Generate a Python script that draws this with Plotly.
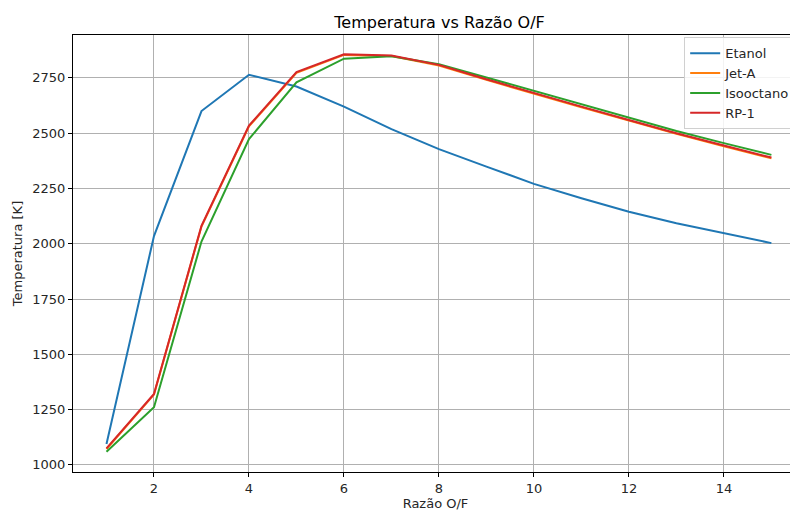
import plotly.graph_objects as go

razao_of = [1, 2, 3, 4, 5, 6, 7, 8, 9, 10, 11, 12, 13, 14, 15]
etanol = [1095, 2035, 2600, 2764, 2711, 2620, 2518, 2428, 2349, 2271, 2206, 2145, 2093, 2048, 2003]
jet_a = [1072, 1318, 2078, 2531, 2773, 2854, 2849, 2806, 2741, 2678, 2617, 2557, 2497, 2441, 2386]
isooctano = [1060, 1261, 2010, 2473, 2730, 2837, 2848, 2812, 2752, 2692, 2630, 2570, 2510, 2455, 2402]
rp_1 = [1075, 1321, 2081, 2534, 2776, 2857, 2851, 2809, 2744, 2681, 2620, 2560, 2500, 2444, 2390]

series = [
    ("Etanol", etanol, "#1f77b4"),
    ("Jet-A", jet_a, "#ff7f0e"),
    ("Isooctano", isooctano, "#2ca02c"),
    ("RP-1", rp_1, "#d62728"),
]

y_ticks = [1000, 1250, 1500, 1750, 2000, 2250, 2500, 2750]
x_ticks = [2, 4, 6, 8, 10, 12, 14]

fig = go.Figure()
for name, vals, color in series:
    fig.add_trace(go.Scatter(x=razao_of, y=vals, mode="lines", name=name,
                             line=dict(color=color, width=2)))

W, H = 790, 505  # page has 8px body margin
font = "DejaVu Sans"
fig.update_layout(
    width=W, height=H,
    margin=dict(l=65, r=0, t=27, b=41, autoexpand=False),
    paper_bgcolor="white", plot_bgcolor="white",
    font=dict(family=font, size=13, color="#262626"),
    title=dict(text="Temperatura vs Razão O/F", x=431.5 / W, xanchor="center",
               y=1 - 14 / H, yanchor="middle", font=dict(size=16, color="black")),
    legend=dict(x=0.843, y=0.995, xanchor="left", yanchor="top",
                bgcolor="rgba(255,255,255,0.85)", bordercolor="#d0d0d0", borderwidth=1,
                font=dict(size=13, color="#262626"), tracegroupgap=0, itemwidth=30),
    showlegend=True,
)
fig.update_xaxes(
    range=[0.295, 15.56], tickvals=x_ticks, ticks="outside", ticklen=4, tickcolor="black",
    showline=True, linecolor="black", linewidth=1, mirror=True, automargin=False,
    showgrid=True, gridcolor="#b0b0b0", gridwidth=0.8, zeroline=False,
    title=dict(text="Razão O/F", standoff=2, font=dict(size=13)),
    tickfont=dict(size=13),
)
fig.update_yaxes(
    range=[968, 2944], tickvals=y_ticks, ticks="outside", ticklen=4, tickcolor="black",
    showline=True, linecolor="black", linewidth=1, automargin=False,
    showgrid=True, gridcolor="#b0b0b0", gridwidth=0.8, zeroline=False,
    title=dict(text="Temperatura [K]", standoff=6, font=dict(size=13)),
    tickfont=dict(size=13),
)

fig.write_html("out.html")
